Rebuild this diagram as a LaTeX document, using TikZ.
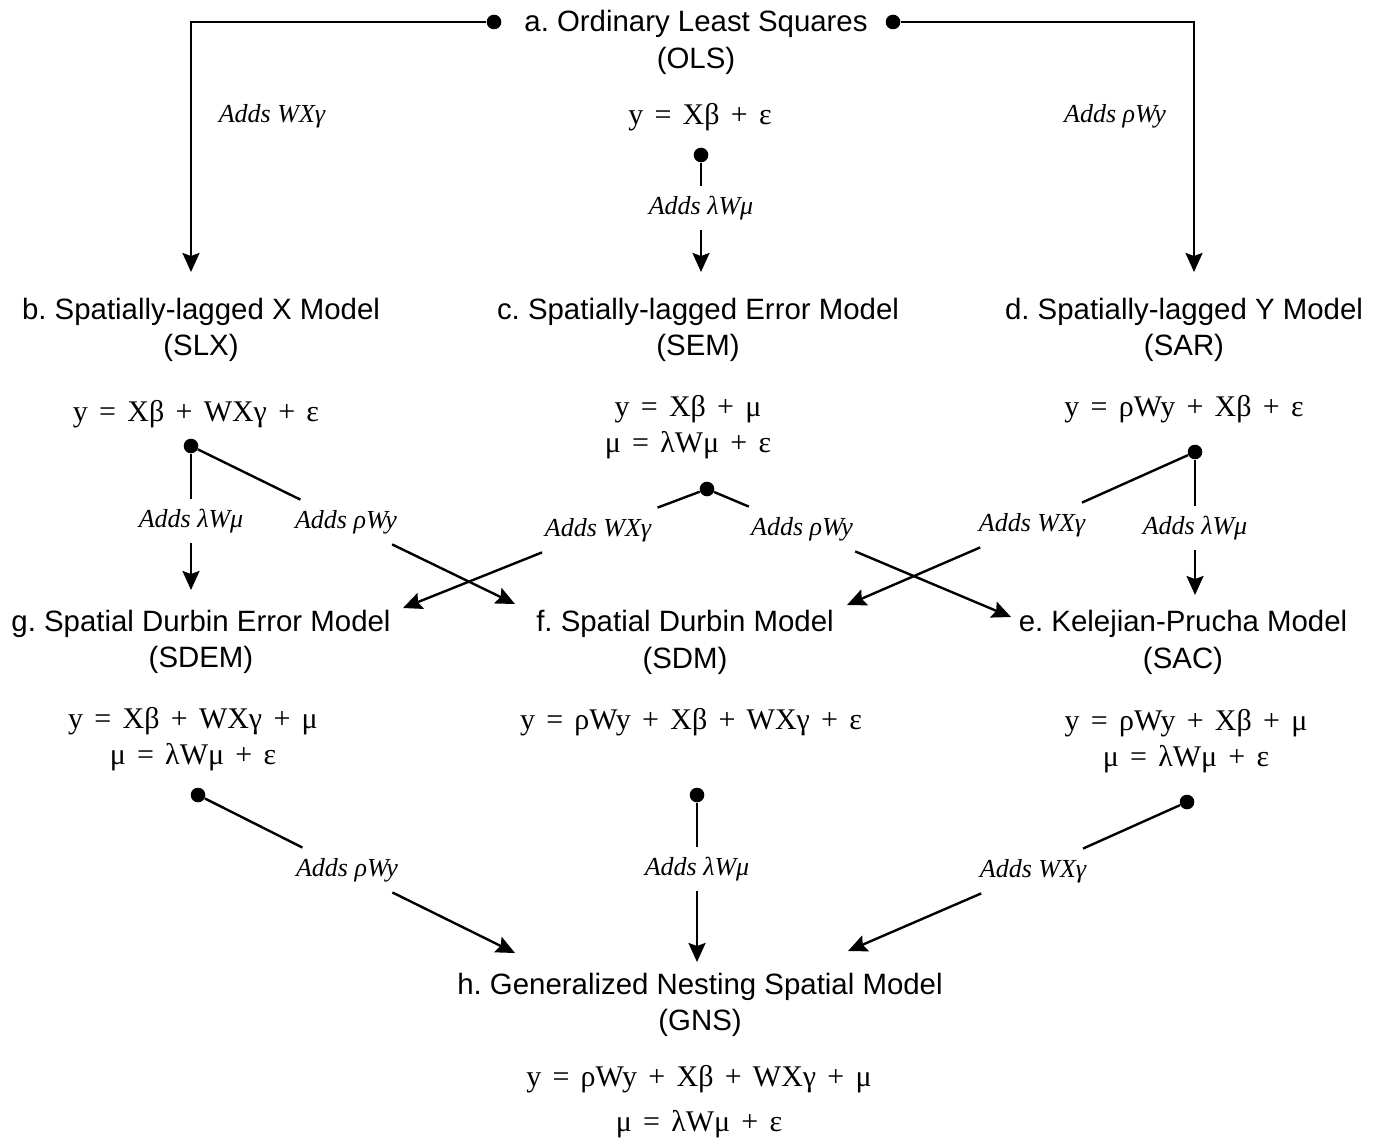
\documentclass[tikz,border=0pt]{standalone}
\usepackage{fontspec}
\setmainfont{Liberation Serif}
\newfontfamily\titlefont{Liberation Sans}
\newfontfamily\eqfont[WordSpace=1.5]{Liberation Serif}
\usetikzlibrary{arrows.meta}
\frenchspacing

\tikzset{
  model/.style={font=\titlefont\fontsize{14.7}{18.2}\selectfont, align=center, inner sep=0},
  eqn/.style={font=\eqfont\fontsize{15}{18}\selectfont, align=center, inner sep=0},
  adds/.style={font=\itshape\fontsize{13}{15}\selectfont, inner xsep=4pt, inner ysep=5pt, text height=9pt, text depth=3pt},
  dot/.style={circle, fill, inner sep=0, minimum size=7.3pt},
  link/.style={line width=1.2pt},
  tip/.style={link, -{Stealth[length=9.5pt,width=8.5pt,inset=1.5pt]}},
}

\begin{document}
\begin{tikzpicture}[x=0.5pt,y=-0.5pt]
  \useasboundingbox (0,0) rectangle (1380,1139);
  % models
  \node[model] (a) at (696,42.5) {a. Ordinary Least Squares\\(OLS)};
  \node[eqn] (aeq) at (700,117) {y = Xβ + ε};
  \node[model] (b) at (201,330) {b. Spatially-lagged X Model\\(SLX)};
  \node[eqn] (beq) at (196,414) {y = Xβ + WXγ + ε};
  \node[model] (c) at (698,330) {c. Spatially-lagged Error Model\\(SEM)};
  \node[eqn] (ceq) at (688,427) {y = Xβ + μ\\μ = λWμ + ε};
  \node[model] (d) at (1184,330) {d. Spatially-lagged Y Model\\(SAR)};
  \node[eqn] (deq) at (1184,409) {y = ρWy + Xβ + ε};
  \node[model] (g) at (201,642) {g. Spatial Durbin Error Model\\(SDEM)};
  \node[eqn] (geq) at (193,739.5) {y = Xβ + WXγ + μ\\μ = λWμ + ε};
  \node[model] (f) at (685,642.5) {f. Spatial Durbin Model\\(SDM)};
  \node[eqn] (feq) at (691,722) {y = ρWy + Xβ + WXγ + ε};
  \node[model] (e) at (1183,642.5) {e. Kelejian-Prucha Model\\(SAC)};
  \node[eqn] (eeq) at (1186,741) {y = ρWy + Xβ + μ\\μ = λWμ + ε};
  \node[model] (h) at (700,1005) {h. Generalized Nesting Spatial Model\\(GNS)};
  \node[eqn] (heq) at (699,1102) {y = ρWy + Xβ + WXγ + μ\\[4.5pt]μ = λWμ + ε};
  % junctions
  \node[dot] (adotl) at (494,22) {};
  \node[dot] (adotr) at (893,22) {};
  \node[dot] (adotc) at (701,155) {};
  \node[dot] (bdot) at (191,446) {};
  \node[dot] (cdot) at (707,489) {};
  \node[dot] (ddot) at (1195,452) {};
  \node[dot] (gdot) at (198,795) {};
  \node[dot] (fdot) at (697,795) {};
  \node[dot] (edot) at (1187,802) {};
  % arrow ends
  \coordinate (b-top) at (191,272);
  \coordinate (c-top) at (701,272);
  \coordinate (d-top) at (1194,272);
  \coordinate (g-top) at (191,590);
  \coordinate (f-left) at (515,604);
  \coordinate (g-right) at (403,608);
  \coordinate (e-left) at (1011,617);
  \coordinate (f-right) at (847,605);
  \coordinate (e-top) at (1195,595);
  \coordinate (h-left) at (515,953);
  \coordinate (h-top) at (697,962);
  \coordinate (h-right) at (848,951);
  % labels
  \node[adds] (l-ab) at (272,117) {Adds WXγ};
  \node[adds] (l-ad) at (1115,117) {Adds ρWy};
  \node[adds] (l-ac) at (701,208) {Adds λWμ};
  \node[adds] (l-bg) at (191,521) {Adds λWμ};
  \node[adds] (l-bf) at (346,522) {Adds ρWy};
  \node[adds] (l-cg) at (598,530) {Adds WXγ};
  \node[adds] (l-ce) at (802,529) {Adds ρWy};
  \node[adds] (l-df) at (1032,525) {Adds WXγ};
  \node[adds] (l-de) at (1195,528) {Adds λWμ};
  \node[adds] (l-gh) at (347,870) {Adds ρWy};
  \node[adds] (l-fh) at (697,869) {Adds λWμ};
  \node[adds] (l-eh) at (1033,871) {Adds WXγ};
  % connectors
  \draw[tip] (adotl) -| (b-top);
  \draw[tip] (adotr) -| (d-top);
  \foreach \s/\l/\t in {adotc/l-ac/c-top, bdot/l-bg/g-top, bdot/l-bf/f-left,
      cdot/l-cg/g-right, cdot/l-ce/e-left, ddot/l-df/f-right, ddot/l-de/e-top,
      gdot/l-gh/h-left, fdot/l-fh/h-top, edot/l-eh/h-right} {
    \draw[link] (\s) -- (\l);
    \draw[tip] (\l) -- (\t);
  }
\end{tikzpicture}
\end{document}
